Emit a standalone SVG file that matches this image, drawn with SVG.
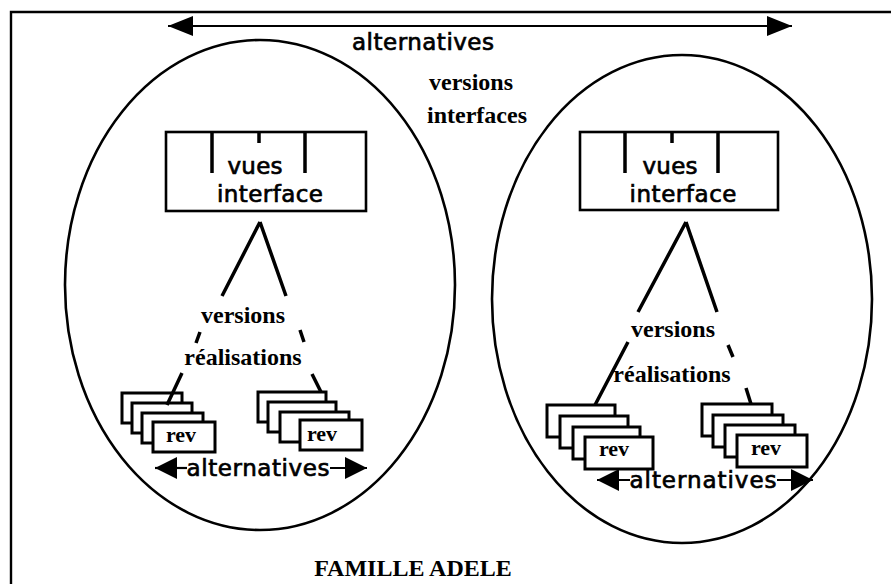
<svg xmlns="http://www.w3.org/2000/svg" width="891" height="584" viewBox="0 0 891 584">
  <style>
    .frame{fill:none;stroke:#000;stroke-width:2.4}
    .oval{fill:none;stroke:#000;stroke-width:2.6}
    .box{fill:#fff;stroke:#000;stroke-width:2.6}
    .rv{fill:#fff;stroke:#000;stroke-width:3}
    .edge{fill:none;stroke:#000;stroke-width:3.5}
    .arrow{fill:none;stroke:#000;stroke-width:2.2}
    .mac{font-family:"DejaVu Sans",sans-serif;font-size:23px;fill:#000;stroke:#000;stroke-width:0.7}
    .bold{font-family:"Liberation Serif",serif;font-weight:bold;font-size:24px;fill:#000}
    .small{font-family:"Liberation Serif",serif;font-weight:bold;font-size:22px;fill:#000}
  </style>
  <defs>
    <marker id="head" viewBox="0 0 25 20" refX="25" refY="10" markerWidth="25" markerHeight="20" markerUnits="userSpaceOnUse" orient="auto-start-reverse">
      <path d="M0,0 L25,10 L0,20 z" fill="#000"/>
    </marker>
    <marker id="headS" viewBox="0 0 22 22" refX="22" refY="11" markerWidth="22" markerHeight="22" markerUnits="userSpaceOnUse" orient="auto">
      <path d="M0,0 L22,11 L0,22 z" fill="#000"/>
    </marker>
  </defs>

  <rect width="891" height="584" fill="#fff"/>

  <!-- outer frame: left and top edges -->
  <g id="frame">
    <path class="frame" d="M11,584 V12 H891"/>
  </g>

  <!-- family boundaries -->
  <g id="family-left">
    <ellipse class="oval" cx="260" cy="285" rx="195" ry="245"/>
  </g>
  <g id="family-right">
    <ellipse class="oval" cx="682" cy="299" rx="190" ry="244"/>
  </g>

  <!-- interface nodes -->
  <g id="interface-left">
    <rect class="box" x="166" y="132" width="200" height="79"/>
    <path class="edge" d="M212,132 V173 M305,132 V173 M259,132 V143" stroke-width="3"/>
    <text class="mac" x="255" y="174" text-anchor="middle" textLength="55">vues</text>
    <text class="mac" x="270" y="202" text-anchor="middle" textLength="106">interface</text>
  </g>
  <g id="interface-right">
    <rect class="box" x="580" y="132" width="198" height="78"/>
    <path class="edge" d="M625,132 V173 M718,132 V173 M672,132 V143" stroke-width="3"/>
    <text class="mac" x="670" y="174" text-anchor="middle" textLength="55">vues</text>
    <text class="mac" x="683" y="202" text-anchor="middle" textLength="107">interface</text>
  </g>

  <!-- revision stacks -->
  <g id="revs-left-a">
    <rect class="rv" x="122" y="393" width="60" height="30"/>
    <rect class="rv" x="132" y="403" width="60" height="30"/>
    <rect class="rv" x="142" y="413" width="61" height="30"/>
    <rect class="rv" x="153" y="422" width="62" height="30"/>
    <text class="small" x="181" y="442" text-anchor="middle">rev</text>
  </g>
  <g id="revs-left-b">
    <rect class="rv" x="258" y="392" width="68" height="30"/>
    <rect class="rv" x="268" y="402" width="68" height="30"/>
    <rect class="rv" x="280" y="412" width="69" height="30"/>
    <rect class="rv" x="300" y="420" width="62" height="30"/>
    <text class="small" x="322" y="441" text-anchor="middle">rev</text>
  </g>
  <g id="revs-right-a">
    <rect class="rv" x="547" y="405" width="68" height="32"/>
    <rect class="rv" x="560" y="416" width="68" height="32"/>
    <rect class="rv" x="573" y="427" width="67" height="32"/>
    <rect class="rv" x="585" y="437" width="68" height="32"/>
    <text class="small" x="614" y="456" text-anchor="middle">rev</text>
  </g>
  <g id="revs-right-b">
    <rect class="rv" x="702" y="404" width="70" height="32"/>
    <rect class="rv" x="713" y="415" width="70" height="32"/>
    <rect class="rv" x="725" y="425" width="70" height="32"/>
    <rect class="rv" x="737" y="435" width="70" height="32"/>
    <text class="small" x="766" y="455" text-anchor="middle">rev</text>
  </g>

  <!-- labels -->
  <g id="labels">
    <text class="mac" x="423" y="50" text-anchor="middle" textLength="142">alternatives</text>
    <text class="bold" x="471" y="90" text-anchor="middle">versions</text>
    <text class="bold" x="477" y="123" text-anchor="middle">interfaces</text>
    <text class="bold" x="243" y="323" text-anchor="middle">versions</text>
    <text class="bold" x="243" y="365" text-anchor="middle">réalisations</text>
    <text class="bold" x="673" y="337" text-anchor="middle">versions</text>
    <text class="bold" x="672" y="382" text-anchor="middle">réalisations</text>
    <text class="mac" x="258" y="476" text-anchor="middle" textLength="143">alternatives</text>
    <text class="mac" x="703" y="488" text-anchor="middle" textLength="147">alternatives</text>
    <text class="bold" x="413" y="576" text-anchor="middle">FAMILLE ADELE</text>
  </g>

  <!-- connectors -->
  <g id="connectors">
    <line class="arrow" x1="168" y1="26" x2="792" y2="26" marker-start="url(#head)" marker-end="url(#head)"/>

    <path class="edge" d="M260,222 L222,296 M260,222 L286,296"/>
    <path class="edge" d="M200,332 L196,343 M300,330 L304,342"/>
    <path class="edge" d="M182,373 L167,405 M312,374 L321,392"/>

    <path class="edge" d="M686,222 L638,312 M686,222 L717,312"/>
    <path class="edge" d="M628,342 L595,405 M728,345 L733,357"/>
    <path class="edge" d="M746,388 L751,404"/>

    <line class="arrow" x1="187" y1="468" x2="155" y2="468" marker-end="url(#headS)"/>
    <line class="arrow" x1="330" y1="468" x2="367" y2="468" marker-end="url(#headS)"/>
    <line class="arrow" x1="630" y1="480" x2="597" y2="480" marker-end="url(#headS)"/>
    <line class="arrow" x1="777" y1="480" x2="813" y2="480" marker-end="url(#headS)"/>
  </g>
</svg>
